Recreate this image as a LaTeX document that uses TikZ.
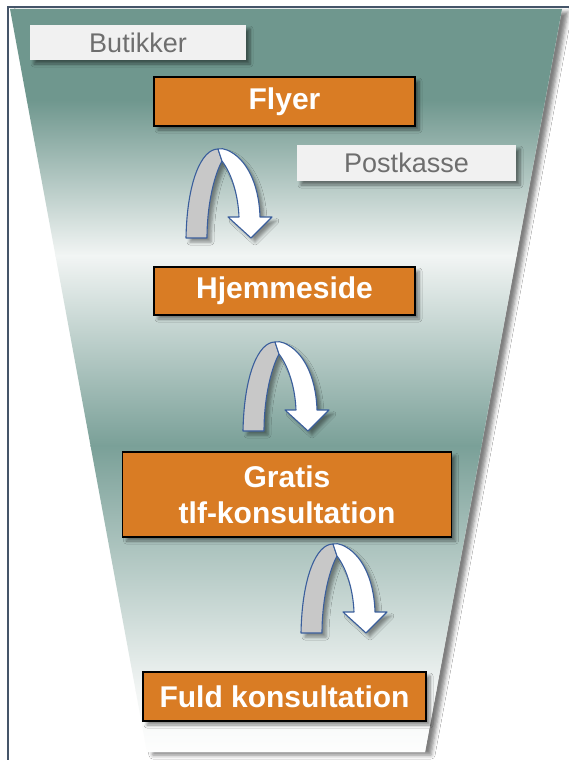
\documentclass[tikz,border=0pt]{standalone}
\usepackage{fontspec}
\setmainfont{Liberation Sans}
\usetikzlibrary{shadows.blur}
\definecolor{orangefill}{HTML}{D97C24}
\definecolor{tealdark}{HTML}{6F978E}
\definecolor{tealmid}{HTML}{7AA098}
\definecolor{tealwhite}{HTML}{F2F5F4}
\definecolor{framecol}{HTML}{455569}
\definecolor{arrowblue}{HTML}{3A5E9C}
\definecolor{argray}{HTML}{C8C8C8}
\definecolor{labelfill}{HTML}{F1F1F1}
\definecolor{labeltext}{HTML}{6E6E6E}
\tikzset{
  softshadow/.style={blur shadow={shadow xshift=4pt,shadow yshift=-4pt,shadow blur radius=3pt,shadow blur steps=6,shadow opacity=45}},
  orangebox/.style={draw=black,line width=1.2pt,fill=orangefill,text=white,
    font=\fontsize{30}{36}\selectfont\bfseries,align=center,inner sep=0pt,softshadow},
  graybox/.style={fill=labelfill,text=labeltext,font=\fontsize{27}{30}\selectfont,
    inner sep=0pt,softshadow},
  arrowline/.style={draw=arrowblue,line width=1.1pt,line join=round},
  uturn/.pic={
    \path[blur shadow={shadow xshift=4pt,shadow yshift=-4pt,shadow blur radius=3pt,shadow opacity=40}]
      (0,0) .. controls (1,-55) and (15,-89) .. (32,-89) -- (36,-77) .. controls (27,-60) and (21,-30) .. (21,0) -- cycle;
    \path[blur shadow={shadow xshift=4pt,shadow yshift=-4pt,shadow blur radius=3pt,shadow opacity=40}]
      (32,-89) .. controls (35,-90) and (38,-89) .. (41,-88) .. controls (60,-80) and (73,-55) .. (74,-21)
      -- (86,-21) -- (65,0) -- (42,-21) -- (53,-21) .. controls (52,-45) and (45,-65) .. (36,-77) -- cycle;
    \filldraw[arrowline,fill=argray]
      (0,0) .. controls (1,-55) and (15,-89) .. (32,-89) -- (36,-77) .. controls (27,-60) and (21,-30) .. (21,0) -- cycle;
    \filldraw[arrowline,fill=white]
      (32,-89) .. controls (35,-90) and (38,-89) .. (41,-88) .. controls (60,-80) and (73,-55) .. (74,-21)
      -- (86,-21) -- (65,0) -- (42,-21) -- (53,-21) .. controls (52,-45) and (45,-65) .. (36,-77) -- cycle;
  }
}
\begin{document}
\begin{tikzpicture}[x=1pt,y=-1pt]
\useasboundingbox (0,0) rectangle (569,760);
\fill[white] (0,0) rectangle (569,760);
% funnel
\path[fill=white,blur shadow={shadow xshift=6pt,shadow yshift=-3pt,shadow blur radius=4pt,shadow opacity=50}]
  (10,9) -- (562,9) -- (425,752) -- (147,752) -- cycle;
\begin{scope}
  \clip (10,9) -- (562,9) -- (425,752) -- (147,752) -- cycle;
  \fill[tealdark] (0,0) rectangle (569,101);
  \shade[top color=tealdark,bottom color=tealwhite] (0,100) rectangle (569,256);
  \shade[top color=tealwhite,bottom color=tealmid] (0,255) rectangle (569,446);
  \shade[top color=tealmid,bottom color=tealwhite] (0,445) rectangle (569,691);
  \shade[top color=tealwhite,bottom color=white] (0,690) rectangle (569,760);
\end{scope}
% labels
\node[graybox,minimum width=216pt,minimum height=35pt] (butikker) at (138,42.5) {Butikker};
\node[graybox,minimum width=219pt,minimum height=36pt] (postkasse) at (406.5,163) {Postkasse};
% boxes
\node[orangebox,minimum width=261pt,minimum height=49pt] (flyer) at (284.5,101.5) {Flyer};
\node[orangebox,minimum width=261pt,minimum height=48pt] (hjem) at (284.5,291) {Hjemmeside};
\node[orangebox,minimum width=329pt,minimum height=85pt] (gratis) at (287,494.5) {Gratis\\tlf-konsultation};
\node[orangebox,minimum width=283pt,minimum height=49pt] (fuld) at (284.5,696.5) {Fuld konsultation};
% arrows
\pic at (186,238) {uturn};
\pic at (243,431) {uturn};
\pic at (301,633) {uturn};
% frame
\draw[framecol,line width=2.5pt] (8,765) -- (8,7) -- (575,7);
\end{tikzpicture}
\end{document}
